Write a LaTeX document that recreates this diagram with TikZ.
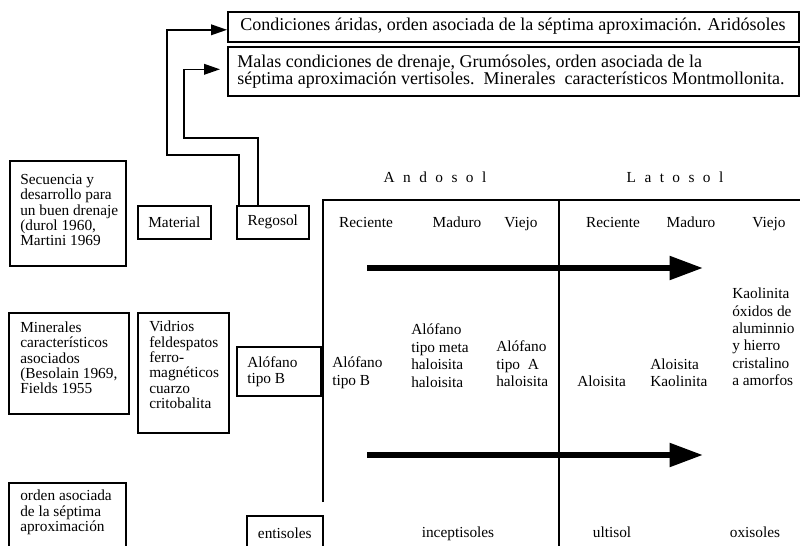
\documentclass[tikz,border=0pt]{standalone}
\usepackage{fontspec}
\setmainfont{Liberation Serif}
\usetikzlibrary{arrows.meta,calc}
\newcommand{\gapx}{\hspace{0.55em}}
\begin{document}
\begin{tikzpicture}[x=0.75pt,y=-0.75pt,
  frame/.style={line width=1.2pt},
  boxshape/.style={draw,line width=1.2pt,anchor=north west,inner sep=0pt,font=\fontsize{11.5}{13}\selectfont},
  txt/.style={inner sep=0pt,align=left,anchor=west,font=\fontsize{11.5}{11.5}\selectfont},
  txtb/.style={inner sep=0pt,align=left,anchor=west,font=\fontsize{13.5}{12.75}\selectfont},
  txtm/.style={inner sep=0pt,align=left,anchor=west,font=\fontsize{11.5}{13.1}\selectfont},
  lbl/.style={inner sep=0pt,font=\fontsize{11.5}{13}\selectfont},
  lblb/.style={inner sep=0pt,anchor=base,font=\fontsize{11.5}{13}\selectfont},
  conn/.style={line width=1.2pt,-{Triangle[length=12pt,width=8pt]}},
  bigarrow/.style={line width=4.5pt,-{Triangle[length=25pt,width=17pt]}}]
\useasboundingbox (0,0) rectangle (800,546);

% top boxes
\node[boxshape,minimum width=428.25pt,minimum height=22.5pt] (b1) at (227,11) {};
\node[lbl,font=\fontsize{13.5}{13}\selectfont] (b1t) at (513,26) {Condiciones áridas, orden asociada de la séptima aproximación. Aridósoles};
\node[boxshape,minimum width=428.25pt,minimum height=36.75pt] (b2) at (227,46) {};
\node[txtb] (b2t) at (237,71.5) {Malas condiciones de drenaje, Grumósoles, orden asociada de la\\séptima aproximación vertisoles.\ \ Minerales\ \ característicos Montmollonita.};

% left column boxes
\node[boxshape,minimum width=87pt,minimum height=78.75pt] (sec) at (9,160) {};
\node[txt,font=\fontsize{11.5}{11.6}\selectfont] (sect) at (20,210) {Secuencia y\\desarrollo para\\un buen drenaje\\(durol 1960,\\Martini 1969};
\node[boxshape,minimum width=54.75pt,minimum height=24.75pt] (mat) at (137,205) {Material};
\node[boxshape,minimum width=54pt,minimum height=24.75pt] (reg) at (236,205) {Regosol};

\node[boxshape,minimum width=90pt,minimum height=75.75pt] (min) at (8,312) {};
\node[txt] (mint) at (20,358) {Minerales\\característicos\\asociados\\(Besolain 1969,\\Fields 1955};
\node[boxshape,minimum width=68.25pt,minimum height=90pt] (vid) at (137,312) {};
\node[txt] (vidt) at (149,365) {Vidrios\\feldespatos\\ferro-\\magnéticos\\cuarzo\\critobalita};
\node[boxshape,minimum width=63pt,minimum height=36.75pt] (alo) at (236,346) {};
\node[txt,font=\fontsize{11.5}{12}\selectfont] (alot) at (247,372) {Alófano\\tipo B};

\node[boxshape,minimum width=87.75pt,minimum height=60pt] (ord) at (8,482) {};
\node[txt] (ordt) at (20,512.5) {orden asociada\\de la séptima\\aproximación};
\node[boxshape,minimum width=57pt,minimum height=25.5pt] (ent) at (246,515) {entisoles};

% connectors from Regosol
\coordinate (c1a) at (167,155);
\coordinate (c2a) at (184,138);
\coordinate (b2in) at ($(b2.west)+(-7,-2)$);
\draw[conn] ($(reg.north west)+(3,0)$) |- (c1a) |- ($(b1.west)+(0,3)$);
\draw[conn] ($(reg.north west)+(22,0)$) |- (c2a) |- (b2in);

% frame
\coordinate (ftl) at (323,200);
\coordinate (ftr) at (800,200);
\coordinate (fbl) at (323,502);
\coordinate (dtop) at (559,200);
\coordinate (dbot) at (559,550);
\draw[frame] (fbl) -- (ftl) -- (ftr);
\draw[frame] (dtop) -- (dbot);

% headers
\node[lblb] (and) at (435,182) {A\gapx n\gapx d\gapx o\gapx s\gapx o\gapx l};
\node[lblb] (lat) at (675,182) {L\gapx a\gapx t\gapx o\gapx s\gapx o\gapx l};
\node[lblb] (h1) at (366,227) {Reciente};
\node[lblb] (h2) at (457,227) {Maduro};
\node[lblb] (h3) at (521,227) {Viejo};
\node[lblb] (h4) at (613,227) {Reciente};
\node[lblb] (h5) at (691,227) {Maduro};
\node[lblb] (h6) at (769,227) {Viejo};

% big arrows
\coordinate (a1s) at (367,268);
\coordinate (a1e) at (703,268);
\coordinate (a2s) at (367,455);
\coordinate (a2e) at (703,455);
\draw[bigarrow] (a1s) -- (a1e);
\draw[bigarrow] (a2s) -- (a2e);

% minerals row
\node[txtm] (m1) at (332,372.5) {Alófano\\tipo B};
\node[txtm] (m2) at (411,355.5) {Alófano\\tipo meta\\haloisita\\haloisita};
\node[txtm] (m3) at (496,364) {Alófano\\tipo\ \ A\\haloisita};
\node[txtm] (m4) at (577,381) {Aloisita};
\node[txtm] (m5) at (650,372.5) {Aloisita\\Kaolinita};
\node[txtm] (m6) at (732,337) {Kaolinita\\óxidos de\\aluminnio\\y hierro\\cristalino\\a amorfos};

% orders row
\node[lblb] (o1) at (458,537) {inceptisoles};
\node[lblb] (o2) at (612,537) {ultisol};
\node[lblb] (o3) at (755,537) {oxisoles};
\end{tikzpicture}
\end{document}
